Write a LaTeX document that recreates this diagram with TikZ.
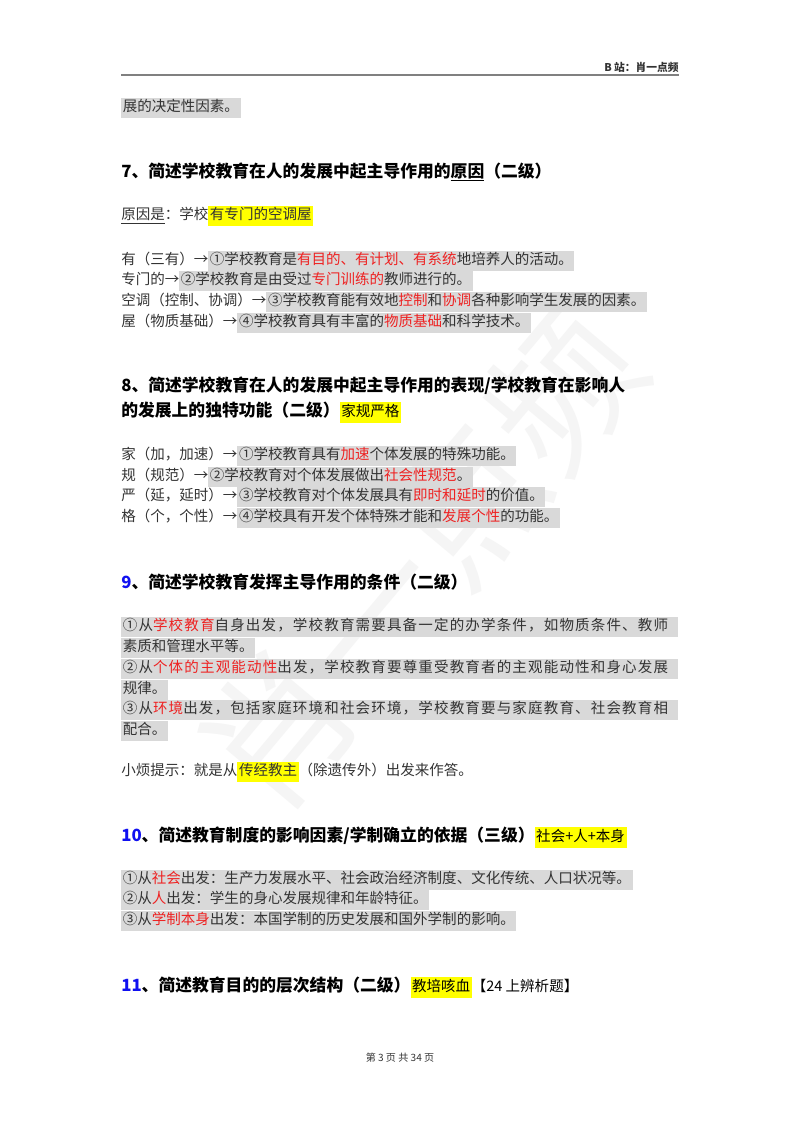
\documentclass[tikz,border=0pt]{standalone}
\usepackage{fontspec}
\setmainfont{Noto Sans CJK SC}
\newfontfamily\wide[LetterSpace=8]{Noto Sans CJK SC}
\usepackage{xcolor}
\definecolor{hg}{HTML}{D9D9D9}
\definecolor{hy}{HTML}{FFFF00}
\definecolor{rd}{HTML}{EE2222}
\definecolor{bl}{HTML}{1010F0}
\definecolor{tx}{HTML}{333333}
\newcommand{\G}[1]{{\setlength{\fboxsep}{1.2pt}\colorbox{hg}{\strut #1}}}
\newcommand{\Y}[1]{{\setlength{\fboxsep}{1.2pt}\colorbox{hy}{\strut #1}}}
\newcommand{\R}[1]{\textcolor{rd}{#1}}
\newcommand{\W}[1]{{\setlength{\fboxsep}{1.2pt}\colorbox{hg}{\strut\makebox[412pt][l]{\wide #1}}}}
\begin{document}
\begin{tikzpicture}[x=0.744pt,y=-0.744pt,
  body/.style={anchor=west,inner sep=0pt,font=\fontsize{10.8}{12}\selectfont,text=tx},
  head/.style={anchor=west,inner sep=0pt,font=\fontsize{12.5}{14}\selectfont\bfseries,text=black}]
\useasboundingbox[fill=white] (0,0) rectangle (800,1132);
\node[rotate=50,text=black!4,font=\fontsize{110}{110}\selectfont] (wm) at (420,560) {肖一点频};
\node[anchor=east,inner sep=0pt,font=\fontsize{8}{9}\selectfont\bfseries,text=tx] (hd) at (679,67) {B 站：肖一点频};
\coordinate (r1) at (121,75); \coordinate (r2) at (679,75);
\draw[gray,line width=0.8pt] (r1) -- (r2);
\node[body] (l0) at (121,108) {\G{展的决定性因素。}};
\node[head] (h7) at (121,172) {7、简述学校教育在人的发展中起主导作用的\underline{原因}（二级）};
\node[body] (l1) at (121,216) {\underline{原因是}：学校\Y{有专门的空调屋}};
\node[body] (l2) at (121,261) {有（三有）→\G{①学校教育是\R{有目的、有计划、有系统}地培养人的活动。}};
\node[body] (l3) at (121,281) {专门的→\G{②学校教育是由受过\R{专门训练的}教师进行的。}};
\node[body] (l4) at (121,302) {空调（控制、协调）→\G{③学校教育能有效地\R{控制}和\R{协调}各种影响学生发展的因素。}};
\node[body] (l5) at (121,323) {屋（物质基础）→\G{④学校教育具有丰富的\R{物质基础}和科学技术。}};
\node[head] (h8a) at (121,386) {8、简述学校教育在人的发展中起主导作用的表现/学校教育在影响人};
\node[head] (h8b) at (121,412) {的发展上的独特功能（二级）{\mdseries\fontsize{10.8}{12}\selectfont\Y{家规严格}}};
\node[body] (m1) at (121,456) {家（加，加速）→\G{①学校教育具有\R{加速}个体发展的特殊功能。}};
\node[body] (m2) at (121,477) {规（规范）→\G{②学校教育对个体发展做出\R{社会性规范}。}};
\node[body] (m3) at (121,497) {严（延，延时）→\G{③学校教育对个体发展具有\R{即时和延时}的价值。}};
\node[body] (m4) at (121,518) {格（个，个性）→\G{④学校具有开发个体特殊才能和\R{发展个性}的功能。}};
\node[head] (h9) at (121,582) {\textcolor{bl}{9}、简述学校教育发挥主导作用的条件（二级）};
\node[body] (n1) at (121,627) {\W{①从\R{学校教育}自身出发，学校教育需要具备一定的办学条件，如物质条件、教师}};
\node[body] (n2) at (121,648) {\G{素质和管理水平等。}};
\node[body] (n3) at (121,669) {\W{②从\R{个体的主观能动性}出发，学校教育要尊重受教育者的主观能动性和身心发展}};
\node[body] (n4) at (121,690) {\G{规律。}};
\node[body] (n5) at (121,710) {\W{③从\R{环境}出发，包括家庭环境和社会环境，学校教育要与家庭教育、社会教育相}};
\node[body] (n6) at (121,731) {\G{配合。}};
\node[body] (tip) at (121,772) {小烦提示：就是从\Y{传经教主}（除遗传外）出发来作答。};
\node[head] (h10) at (121,837) {\textcolor{bl}{10}、简述教育制度的影响因素/学制确立的依据（三级）{\mdseries\fontsize{10.8}{12}\selectfont\Y{社会+人+本身}}};
\node[body] (p1) at (121,880) {\G{①从\R{社会}出发：生产力发展水平、社会政治经济制度、文化传统、人口状况等。}};
\node[body] (p2) at (121,900) {\G{②从\R{人}出发：学生的身心发展规律和年龄特征。}};
\node[body] (p3) at (121,921) {\G{③从\R{学制本身}出发：本国学制的历史发展和国外学制的影响。}};
\node[head] (h11) at (121,987) {\textcolor{bl}{11}、简述教育目的的层次结构（二级）{\mdseries\fontsize{10.8}{12}\selectfont\Y{教培咳血}【24 上辨析题】}};
\node[inner sep=0pt,font=\fontsize{7.5}{9}\selectfont,text=tx] (ft) at (400,1058) {第 3 页 共 34 页};
\end{tikzpicture}
\end{document}
